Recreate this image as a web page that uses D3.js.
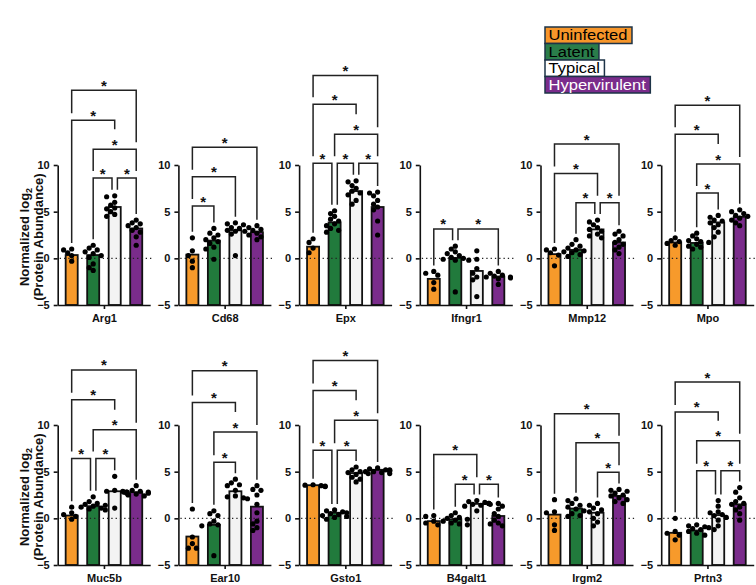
<!DOCTYPE html>
<html>
<head>
<meta charset="utf-8">
<script src="https://cdnjs.cloudflare.com/ajax/libs/d3/7.8.5/d3.min.js"></script>
<style>
  body { margin: 0; background: #fff; }
  svg { display: block; font-family: Arial, "Liberation Sans", sans-serif; }
</style>
</head>
<body>
<svg id="chart" width="756" height="585"></svg>
<script>
// ---- data ----
const groups = ["Uninfected", "Latent", "Typical", "Hypervirulent"];
const genes = ["Arg1", "Cd68", "Epx", "Ifngr1", "Mmp12", "Mpo",
               "Muc5b", "Ear10", "Gsto1", "B4galt1", "Irgm2", "Prtn3"];
const yTicks = [-5, 0, 5, 10];

// bar heights (group means) per gene, in group order
const barValues = [
  [0.35, 0.35, 5.5, 3.2],
  [0.4, 1.9, 3.0, 2.8],
  [1.25, 3.85, 7.2, 5.5],
  [-2.2, 0.05, -1.35, -1.95],
  [0.45, 0.9, 3.1, 1.7],
  [1.7, 1.65, 3.85, 4.45],
  [0.3, 1.3, 2.9, 2.8],
  [-1.95, -0.7, 2.9, 1.25],
  [3.55, 0.6, 4.85, 5.2],
  [-0.3, -0.1, 1.55, 0.25],
  [0.4, 1.05, 0.6, 2.4],
  [-1.55, -1.3, 0.35, 1.5]
];

// individual animals per gene and group
const pointValues = [
  [[1.0, 0.9, 0.6, 0.3, -0.3],
   [1.4, 1.1, 0.9, 0.7, 0.5, 0.3, 0.1, -0.6, -1.3, -1.0],
   [6.7, 6.6, 6.0, 5.7, 5.4, 5.3, 5.0, 4.7, 4.5],
   [4.1, 3.8, 3.7, 3.5, 3.3, 3.0, 2.8, 2.3, 1.4]],
  [[2.2, 0.8, 0.3, -0.3, -1.0],
   [3.2, 2.7, 2.5, 2.2, 2.0, 1.8, 1.6, 1.2, 1.0, -0.1],
   [3.8, 3.7, 3.6, 3.3, 3.2, 3.0, 2.9, 2.6, 0.3],
   [3.5, 3.3, 3.1, 3.0, 2.9, 2.7, 2.5, 2.3, 2.0]],
  [[2.1, 1.7, 1.1, 0.6],
   [5.1, 4.8, 4.5, 4.2, 4.0, 3.7, 3.5, 3.2, 3.0, 2.8],
   [8.3, 8.2, 7.8, 7.5, 7.2, 7.0, 6.8, 6.2, 5.8],
   [7.1, 7.0, 6.7, 6.2, 5.8, 5.5, 5.2, 4.0, 2.5]],
  [[-1.4, -1.6, -1.8, -2.6, -3.3],
   [1.3, 1.0, 0.7, 0.5, 0.3, 0.1, 0.0, -0.1, -0.2, -3.6],
   [0.8, -0.1, -0.2, -1.1, -1.6, -2.0, -2.3, -4.1],
   [-1.4, -1.6, -1.8, -1.9, -2.0, -2.0, -2.1, -2.2, -2.8]],
  [[1.0, 0.9, 0.6, 0.35, -0.8],
   [2.0, 1.5, 1.3, 1.1, 0.9, 0.8, 0.7, 0.6, 0.4, 0.2],
   [4.1, 3.9, 3.6, 3.3, 3.1, 2.9, 2.6, 2.4, 2.2],
   [2.9, 2.6, 2.4, 2.0, 1.7, 1.5, 1.2, 0.9, 0.5]],
  [[2.2, 1.9, 1.8, 1.6, 1.4],
   [2.7, 2.4, 2.1, 1.9, 1.8, 1.7, 1.5, 1.3, 1.2, 1.0],
   [4.6, 4.4, 4.1, 4.0, 3.8, 3.6, 3.3, 2.8, 2.3],
   [5.2, 5.0, 4.8, 4.6, 4.5, 4.3, 4.1, 3.8, 3.5]],
  [[1.2, 0.6, 0.4, 0.2, -0.1],
   [2.3, 1.8, 1.6, 1.5, 1.4, 1.3, 1.2, 1.1, 1.0, 0.9],
   [4.5, 3.0, 2.9, 2.9, 2.8, 2.8, 2.7, 1.1],
   [3.5, 3.0, 2.9, 2.8, 2.8, 2.7, 2.6, 2.5, 2.4]],
  [[1.0, -2.0, -2.7, -3.2, -3.2],
   [0.8, 0.5, 0.3, -0.3, -0.6, -0.7, -0.8, -4.0],
   [4.2, 3.8, 3.6, 3.5, 3.0, 2.4, 2.3, 2.2, 2.1],
   [3.5, 3.1, 3.0, 2.5, 1.5, 0.6, -0.3, -0.6, -1.0, -1.3]],
  [[3.6, 3.55, 3.5, 3.45, 3.4],
   [0.9, 0.8, 0.7, 0.6, 0.5, 0.4, 0.3, 0.2, 0.1, -0.1],
   [5.5, 5.2, 5.0, 4.9, 4.8, 4.7, 4.4, 4.2, 3.9],
   [5.4, 5.3, 5.2, 5.2, 5.1, 5.1, 5.0, 5.0, 4.9, 4.8]],
  [[0.3, 0.2, -0.3, -0.5, -0.7],
   [0.6, 0.3, 0.1, 0.0, -0.1, -0.2, -0.3, -0.5, -0.6, -0.7],
   [1.9, 1.8, 1.7, 1.6, 1.6, 1.5, 1.4, 1.3, 0.8],
   [1.6, 1.5, 1.3, 1.0, 0.5, 0.2, -0.2, -0.5, -0.6, -0.8]],
  [[2.0, 0.7, 0.6, -0.7, -1.3],
   [2.1, 1.9, 1.6, 1.4, 1.2, 1.0, 0.8, 0.5, 0.3, 0.2],
   [1.6, 1.4, 1.1, 0.9, 0.7, 0.5, 0.0, -0.4, -0.8],
   [3.1, 3.0, 2.9, 2.7, 2.5, 2.4, 2.2, 2.0, 1.8, 1.6]],
  [[0.0, -1.4, -1.6, -1.8, -2.3],
   [-0.7, -0.8, -0.9, -1.0, -1.1, -1.2, -1.4, -1.6, -1.8],
   [1.9, 1.3, 0.7, 0.6, 0.4, 0.3, 0.1, -0.2, -0.8, -1.2],
   [3.3, 2.8, 2.2, 1.8, 1.6, 1.5, 1.2, 0.9, 0.5, -0.2]]
];

// significant comparisons: [group a, group b, bracket height in y units]
const comparisons = [
  [[0, 3, 18.0], [0, 2, 14.8], [1, 3, 11.7], [1, 2, 8.6], [2, 3, 8.6]],
  [[0, 3, 11.9], [0, 2, 8.75], [0, 1, 5.6]],
  [[0, 3, 19.6], [0, 2, 16.5], [1, 3, 13.3], [0, 1, 10.2], [1, 2, 10.2], [2, 3, 10.2]],
  [[0, 1, 3.15], [1, 3, 3.15]],
  [[0, 3, 12.25], [0, 2, 9.1], [1, 2, 5.95], [2, 3, 5.95]],
  [[0, 3, 16.4], [0, 2, 13.3], [1, 3, 10.1], [1, 2, 7.0]],
  [[0, 3, 15.9], [0, 2, 12.7], [1, 3, 9.5], [0, 1, 6.4], [1, 2, 6.4]],
  [[0, 3, 15.8], [0, 2, 12.4], [1, 3, 9.25], [1, 2, 6.0]],
  [[0, 3, 16.9], [0, 2, 13.7], [1, 3, 10.5], [0, 1, 7.3], [1, 2, 7.3]],
  [[0, 2, 6.85], [1, 2, 3.65], [2, 3, 3.65]],
  [[0, 3, 11.2], [1, 3, 8.1], [2, 3, 4.95]],
  [[0, 3, 14.6], [0, 2, 11.4], [1, 3, 8.3], [1, 2, 5.1], [2, 3, 5.1]]
];

// ---- styling ----
const groupColors = ["#F79A2B", "#217A3C", "#F3F3F3", "#7A2C8B"];
const legendFill = ["#F7962A", "#2A7D4A", "#FFFFFF", "#7A2C8B"];
const legendText = ["#000", "#000", "#000", "#fff"];
const ink = "#111";

const svg = d3.select("#chart");

const firstAxisX = 57.7;   // y axis of the first column
const colStep = 120.7;     // distance between panels
const panelW = 92.5;
const rowTop = [165, 425]; // pixel y of the value 10
const axisH = 140;         // pixel height from -5 to 10
const dotR = 2.6;

// place the dots of one group side by side when they collide
function swarm(vals, cx, y) {
  const placed = [];
  vals.map((v) => ({ v: v, py: y(v) }))
    .sort((a, b) => a.py - b.py)
    .forEach((p) => {
      const offs = [0, -1, 1, -2, 2, -3, 3].map((k) => k * dotR * 1.55);
      let off = offs[offs.length - 1];
      for (const o of offs) {
        const ok = placed.every(
          (q) => Math.hypot(q.px - (cx + o), q.py - p.py) >= dotR * 1.8
        );
        if (ok) { off = o; break; }
      }
      p.px = cx + off;
      placed.push(p);
    });
  return placed;
}

genes.forEach((gene, gi) => {
  const row = Math.floor(gi / 6);
  const col = gi % 6;
  const left = firstAxisX + col * colStep;
  const top = rowTop[row];

  const y = d3.scaleLinear().domain([-5, 10]).range([top + axisH, top]);
  const x = d3.scaleBand()
    .domain(d3.range(groups.length))
    .range([left, left + panelW])
    .paddingInner(0.44)
    .paddingOuter(0.37);
  const cx = (i) => x(i) + x.bandwidth() / 2;

  const g = svg.append("g").attr("class", "panel");

  // bars from the bottom of the axis
  g.append("g")
    .selectAll("rect")
    .data(barValues[gi])
    .join("rect")
    .attr("x", (d, i) => x(i))
    .attr("width", x.bandwidth())
    .attr("y", (d) => y(d))
    .attr("height", (d) => y(-5) - y(d))
    .attr("fill", (d, i) => groupColors[i])
    .attr("stroke", ink)
    .attr("stroke-width", 1.8);

  // dotted zero line
  g.append("line")
    .attr("x1", left + 2)
    .attr("x2", left + panelW + 3)
    .attr("y1", y(0))
    .attr("y2", y(0))
    .attr("stroke", "#222")
    .attr("stroke-width", 1.3)
    .attr("stroke-dasharray", "1.3,3");

  // individual points
  pointValues[gi].forEach((vals, k) => {
    g.append("g")
      .selectAll("circle")
      .data(swarm(vals, cx(k), y))
      .join("circle")
      .attr("cx", (d) => d.px)
      .attr("cy", (d) => d.py)
      .attr("r", dotR)
      .attr("fill", "#000");
  });

  // axes
  const yAxis = d3.axisLeft(y).tickValues(yTicks).tickSize(4).tickSizeOuter(0).tickPadding(4);
  const ya = g.append("g").attr("transform", `translate(${left},0)`).call(yAxis);

  const xs = d3.scalePoint().domain([gene]).range([left, left + panelW]).padding(0.5);
  const xAxis = d3.axisBottom(xs).tickSize(4).tickSizeOuter(0).tickPadding(5);
  const xa = g.append("g").attr("transform", `translate(0,${y(-5)})`).call(xAxis);

  [ya, xa].forEach((a) => {
    a.selectAll(".domain, .tick line").attr("stroke", ink).attr("stroke-width", 1.6);
    a.selectAll("text")
      .attr("fill", ink)
      .attr("font-size", 11)
      .attr("font-weight", "bold")
      .attr("font-family", "Arial, 'Liberation Sans', sans-serif");
  });

  // significance brackets
  const comps = comparisons[gi];
  const dataTop = pointValues[gi].map((v, k) => Math.max(d3.max(v), barValues[gi][k]));

  comps.forEach((c) => {
    const [a, b, lev] = c;
    const ly = y(lev);

    const legX = [a, b].map((k, side) => {
      const shared = comps.some(
        (o) => o !== c && Math.abs(o[2] - lev) < 0.05 && (side === 0 ? o[1] === k : o[0] === k)
      );
      return cx(k) + (shared ? (side === 0 ? 2.7 : -2.7) : 0);
    });

    const legBottom = [a, b].map((k) => {
      let lim = y(dataTop[k]) - 6;
      comps.forEach((o) => {
        if (o === c || o[2] >= lev - 0.01) return;
        const oy = y(o[2]);
        if (o[0] <= k && k <= o[1]) lim = Math.min(lim, oy - 7);
        const sx = (cx(o[0]) + cx(o[1])) / 2;
        if (Math.abs(sx - cx(k)) < 6) lim = Math.min(lim, oy - 20);
      });
      return lim;
    });

    g.append("path")
      .attr("d", `M${legX[0]},${legBottom[0]}V${ly}H${legX[1]}V${legBottom[1]}`)
      .attr("fill", "none")
      .attr("stroke", "#222")
      .attr("stroke-width", 1.5);

    g.append("text")
      .attr("x", (legX[0] + legX[1]) / 2)
      .attr("y", ly + 0.5)
      .attr("text-anchor", "middle")
      .attr("font-size", 15)
      .attr("font-weight", "bold")
      .attr("fill", ink)
      .text("*");
  });
});

// y axis titles, one per row
rowTop.forEach((top) => {
  const t = svg.append("g")
    .attr("transform", `translate(29,${top + 72}) rotate(-90)`)
    .attr("text-anchor", "middle")
    .attr("font-size", 13)
    .attr("font-weight", "bold")
    .attr("fill", ink);
  const l1 = t.append("text").attr("x", 0).attr("y", 0);
  l1.append("tspan").text("Normalized log");
  l1.append("tspan").attr("font-size", 9).attr("dy", 3).text("2");
  t.append("text").attr("x", 0).attr("y", 13.5).text("(Protein Abundance)");
});

// legend: stacked boxes, the label sits inside each box
const legend = svg.append("g").attr("transform", "translate(545,27)");
const rowH = 16.5;
groups.forEach((name, i) => {
  const item = legend.append("g").attr("transform", `translate(0,${i * rowH})`);
  const rect = item.append("rect")
    .attr("x", 0)
    .attr("y", 0)
    .attr("height", rowH)
    .attr("fill", legendFill[i])
    .attr("stroke", "#1d3347")
    .attr("stroke-width", 1.5);
  const txt = item.append("text")
    .attr("x", 3.5)
    .attr("y", rowH - 3.2)
    .attr("font-size", 14)
    .attr("fill", legendText[i])
    .text(name);
  const w = txt.node().getComputedTextLength() * 1.18;
  txt.attr("textLength", w).attr("lengthAdjust", "spacingAndGlyphs");
  rect.attr("width", w + 8);
});
</script>
</body>
</html>
